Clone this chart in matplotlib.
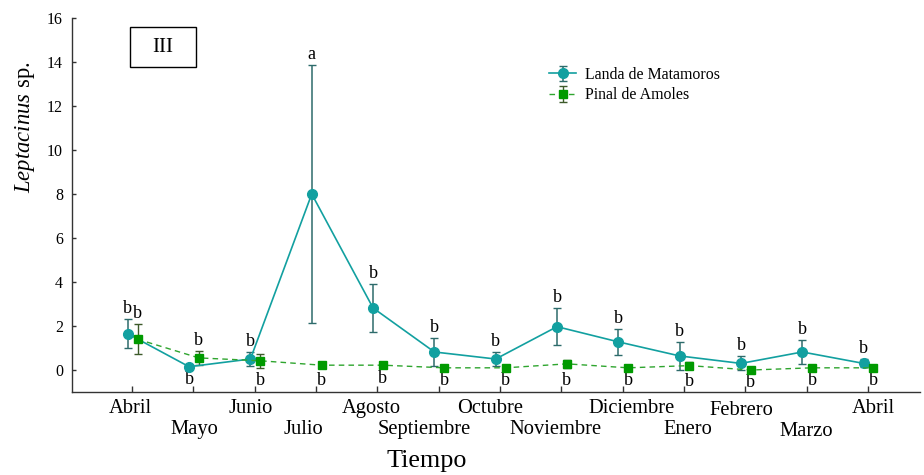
import matplotlib
matplotlib.use("Agg")
import matplotlib.pyplot as plt
from matplotlib.patches import Rectangle
import numpy as np

plt.rcParams['font.family'] = ['Liberation Serif', 'DejaVu Serif']
plt.rcParams['mathtext.fontset'] = 'custom'
plt.rcParams['mathtext.rm'] = 'Liberation Serif'
plt.rcParams['mathtext.it'] = 'Liberation Serif:italic'

months = ["Abril", "Mayo", "Junio", "Julio", "Agosto", "Septiembre", "Octubre",
          "Noviembre", "Diciembre", "Enero", "Febrero", "Marzo", "Abril"]

landa_mean = [1.65, 0.15, 0.50, 8.00, 2.82, 0.82, 0.50, 1.97, 1.28, 0.64, 0.30, 0.82, 0.30]
landa_err = [0.65, 0.0, 0.33, 5.85, 1.10, 0.65, 0.33, 0.85, 0.60, 0.65, 0.32, 0.55, 0.18]
landa_letters = ["b", "b", "b", "a", "b", "b", "b", "b", "b", "b", "b", "b", "b"]
landa_letter_below = [False, True, False, False, False, False, False, False, False, False, False, False, False]

pinal_mean = [1.40, 0.55, 0.42, 0.22, 0.22, 0.10, 0.10, 0.28, 0.10, 0.20, 0.00, 0.10, 0.10]
pinal_err = [0.68, 0.30, 0.33, 0.10, 0.05, 0.0, 0.0, 0.17, 0.0, 0.15, 0.0, 0.0, 0.0]
pinal_letters = ["b"] * 13
pinal_letter_below = [False, False, True, True, True, True, True, True, True, True, True, True, True]

fig = plt.figure(figsize=(9.24, 4.75), dpi=100)
ax = fig.add_axes([0.0779, 0.1747, 0.9178, 0.7874])

x = np.arange(len(months))
xl = x - 0.07
xp = x + 0.09

teal = '#12a0a0'
teal_err = '#2d6b6b'
green = '#009a00'
green_line = '#2fa52f'
green_err = '#3d5a2a'

ax.errorbar(xl, landa_mean, yerr=landa_err, color=teal, ecolor=teal_err, lw=1.2,
            elinewidth=1.1, capsize=3, capthick=1.0, marker='o', ms=7,
            mfc=teal, mec=teal, label='Landa de Matamoros', zorder=3)
ax.errorbar(xp, pinal_mean, yerr=pinal_err, color=green_line, ecolor=green_err, lw=1.0,
            ls=(0, (4, 3)), elinewidth=1.0, capsize=3, capthick=1.0, marker='s', ms=6,
            mfc=green, mec=green, label='Pinal de Amoles', zorder=3)

for xs, means, errs, letters, belows in [(xl, landa_mean, landa_err, landa_letters, landa_letter_below),
                                          (xp, pinal_mean, pinal_err, pinal_letters, pinal_letter_below)]:
    for xi, m, e, t, below in zip(xs, means, errs, letters, belows):
        if below:
            ax.annotate(t, (xi, m - e), xytext=(0, -3), textcoords='offset points',
                        ha='center', va='top', fontsize=13)
        else:
            ax.annotate(t, (xi, m + e), xytext=(0, 1.5), textcoords='offset points',
                        ha='center', va='bottom', fontsize=13)

ax.set_xlim(-0.98, 12.85)
ax.set_ylim(-1, 16)
ax.set_yticks(np.arange(0, 17, 2))
ax.set_xticks(x)
ax.set_xticklabels([''] * len(months))

label_dx = [-2, 1, -4, -13, -6, -14, -10, -6, 9, 4, -4, 0, 5]
label_dy = [-21, -42, -21, -42, -21, -42, -21, -42, -21, -42, -23, -44, -21]
for i, name in enumerate(months):
    ax.annotate(name, (i, 0), xycoords=('data', 'axes fraction'),
                xytext=(label_dx[i], label_dy[i]),
                textcoords='offset pixels', ha='center', va='baseline', fontsize=14.8)

for s in ['top', 'right']:
    ax.spines[s].set_visible(False)
for s in ['left', 'bottom']:
    ax.spines[s].set_color('#333333')
    ax.spines[s].set_linewidth(1.0)
ax.tick_params(axis='both', direction='in', width=1.0, color='#333333')
ax.tick_params(axis='x', length=4)
ax.tick_params(axis='y', length=3, labelsize=11.5, pad=6.5)

fig.text(25 / 924, 1 - 127 / 475, r'$\it{Leptacinus}$ sp.', rotation=90,
         ha='center', va='center', fontsize=16.3)
fig.text(427 / 924, 1 - 467 / 475, 'Tiempo', ha='center', va='baseline', fontsize=18.8)

ax.add_patch(Rectangle((0.0684, 0.869), 0.0776, 0.107, transform=ax.transAxes,
                       fill=True, fc='white', ec='black', lw=1.0, zorder=4))
ax.text(0.107, 0.922, 'III', transform=ax.transAxes, ha='center', va='center',
        fontsize=15, zorder=5)

leg = ax.legend(loc='upper left', bbox_to_anchor=(0.5555, 0.886), frameon=False,
                fontsize=11.4, handlelength=1.7, handletextpad=0.57,
                labelspacing=0.28, borderaxespad=0, borderpad=0.4)

fig.savefig('out.png', dpi=100)
